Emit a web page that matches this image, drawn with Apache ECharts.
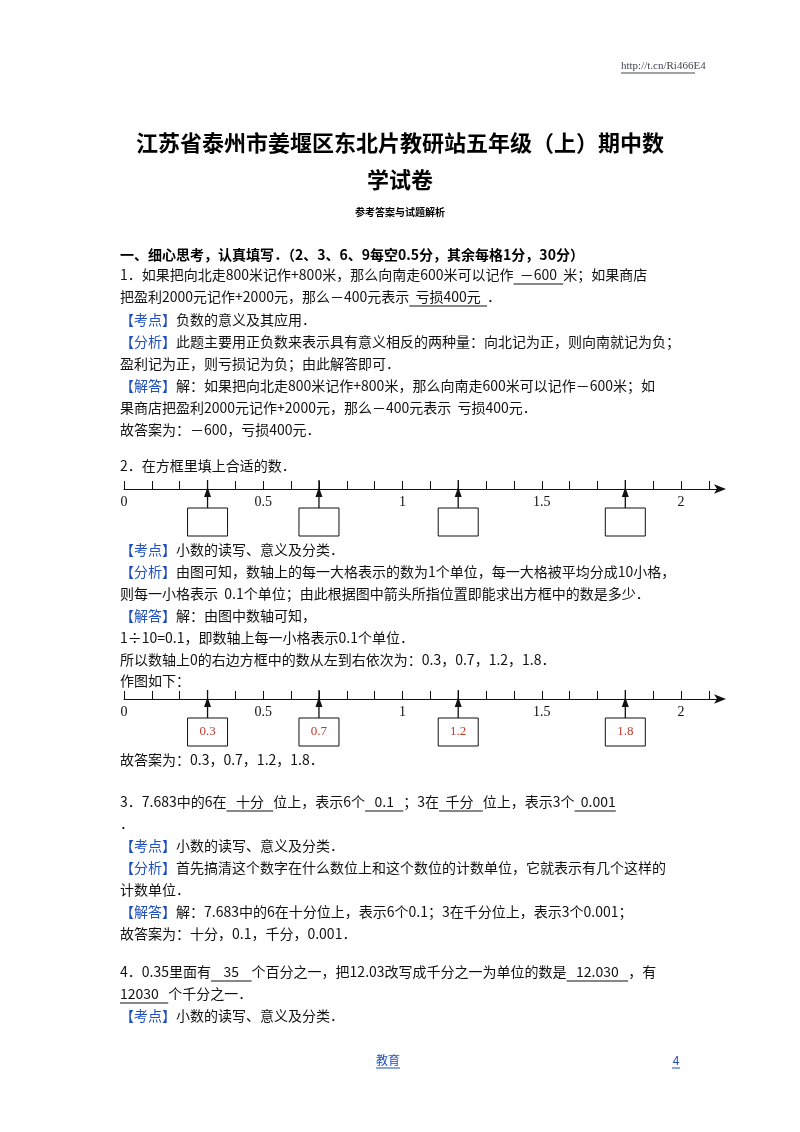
<!DOCTYPE html>
<html><head><meta charset="utf-8">
<script src="https://cdn.jsdelivr.net/npm/echarts@6/dist/echarts.min.js"></script>
<style>html,body{margin:0;padding:0;background:#fff}#main{width:800px;height:1132px}</style>
</head><body><div id="main"></div>
<script>
// 数轴数据
var ticks = [0,0.1,0.2,0.3,0.4,0.5,0.6,0.7,0.8,0.9,1,1.1,1.2,1.3,1.4,1.5,1.6,1.7,1.8,1.9,2,2.1];
var tickLabels = [0, 0.5, 1, 1.5, 2];
var arrowValues = [0.3, 0.7, 1.2, 1.8];
var answerLabels = ['0.3', '0.7', '1.2', '1.8'];

var FONT = "'Noto Sans CJK SC', sans-serif";
var BLUE = '#1f4fbf';
var ctx = document.createElement('canvas').getContext('2d');

// 每行：[y, 段落...]，段落 [文字, 下划线?, 颜色?]
var lines = [
  [275, ['1．如果把向北走800米记作+800米，那么向南走600米可以记作'], ['\u00a0\u00a0－600\u00a0\u00a0', 1], ['米；如果商店']],
  [297, ['把盈利2000元记作+2000元，那么－400元表示'], ['\u00a0\u00a0亏损400元\u00a0\u00a0', 1], ['．']],
  [320, ['【考点】', 0, BLUE], ['负数的意义及其应用．']],
  [342, ['【分析】', 0, BLUE], ['此题主要用正负数来表示具有意义相反的两种量：向北记为正，则向南就记为负；']],
  [364, ['盈利记为正，则亏损记为负；由此解答即可．']],
  [386, ['【解答】', 0, BLUE], ['解：如果把向北走800米记作+800米，那么向南走600米可以记作－600米；如']],
  [408, ['果商店把盈利2000元记作+2000元，那么－400元表示  亏损400元．']],
  [430, ['故答案为：－600，亏损400元．']],
  [466, ['2．在方框里填上合适的数．']],
  [550, ['【考点】', 0, BLUE], ['小数的读写、意义及分类．']],
  [572, ['【分析】', 0, BLUE], ['由图可知，数轴上的每一大格表示的数为1个单位，每一大格被平均分成10小格，']],
  [594, ['则每一小格表示  0.1个单位；由此根据图中箭头所指位置即能求出方框中的数是多少．']],
  [616, ['【解答】', 0, BLUE], ['解：由图中数轴可知，']],
  [638, ['1÷10=0.1，即数轴上每一小格表示0.1个单位．']],
  [660, ['所以数轴上0的右边方框中的数从左到右依次为：0.3，0.7，1.2，1.8．']],
  [681, ['作图如下：']],
  [760, ['故答案为：0.3，0.7，1.2，1.8．']],
  [802, ['3．7.683中的6在'], ['\u00a0\u00a0\u00a0十分\u00a0\u00a0\u00a0', 1], ['位上，表示6个'], ['\u00a0\u00a0\u00a00.1\u00a0\u00a0\u00a0', 1], ['；3在'], ['\u00a0\u00a0千分\u00a0\u00a0\u00a0', 1], ['位上，表示3个'], ['\u00a0\u00a00.001', 1]],
  [824, ['．']],
  [846, ['【考点】', 0, BLUE], ['小数的读写、意义及分类．']],
  [868, ['【分析】', 0, BLUE], ['首先搞清这个数字在什么数位上和这个数位的计数单位，它就表示有几个这样的']],
  [890, ['计数单位．']],
  [912, ['【解答】', 0, BLUE], ['解：7.683中的6在十分位上，表示6个0.1；3在千分位上，表示3个0.001；']],
  [934, ['故答案为：十分，0.1，千分，0.001．']],
  [972, ['4．0.35里面有'], ['\u00a0\u00a0\u00a0\u00a035\u00a0\u00a0\u00a0\u00a0', 1], ['个百分之一，把12.03改写成千分之一为单位的数是'], ['\u00a0\u00a0\u00a012.030\u00a0\u00a0\u00a0', 1], ['，有']],
  [994, ['12030', 1], ['\u00a0\u00a0\u00a0', 1], ['个千分之一．']],
  [1016, ['【考点】', 0, BLUE], ['小数的读写、意义及分类．']]
];

var graphics = [];
function addText(x, y, text, font, color, align) {
  graphics.push({type: 'text', x: x, y: y, style: {text: text, font: font, fill: color || '#111', textAlign: align || 'left', textVerticalAlign: 'middle'}});
}
function addLine(x1, y1, x2, y2, color) {
  graphics.push({type: 'line', shape: {x1: x1, y1: y1, x2: x2, y2: y2}, style: {stroke: color || '#111', lineWidth: 1}});
}

var bodyFont = '14px ' + FONT;
ctx.font = bodyFont;
lines.forEach(function (ln) {
  var x = 120, y = ln[0];
  for (var i = 1; i < ln.length; i++) {
    var seg = ln[i];
    var w = ctx.measureText(seg[0]).width;
    addText(x, y, seg[0], bodyFont, seg[2]);
    if (seg[1]) addLine(x, y + 9, x + w, y + 9);
    x += w;
  }
});

// 页眉、标题、页脚
addText(621, 66, 'http://t.cn/Ri466E4', "11px 'Liberation Serif', serif", '#445');
addLine(621, 73, 695, 73, '#445');
addText(400, 143, '江苏省泰州市姜堰区东北片教研站五年级（上）期中数', 'bold 22px ' + FONT, '#000', 'center');
addText(400, 180, '学试卷', 'bold 22px ' + FONT, '#000', 'center');
addText(400, 212, '参考答案与试题解析', 'bold 10px ' + FONT, '#000', 'center');
addText(120, 255, '一、细心思考，认真填写．（2、3、6、9每空0.5分，其余每格1分，30分）', 'bold 14px ' + FONT, '#000');
addText(388, 1060, '教育', '12px ' + FONT, BLUE, 'center');
addLine(376, 1068, 400, 1068, BLUE);
addText(676, 1060, '4', '12px ' + FONT, BLUE, 'center');
addLine(672, 1068, 680, 1068, BLUE);

var axisY = [489, 699];
function makeAxis(i) {
  return {
    gridIndex: i, type: 'value', min: 0, max: 2.14, position: 'bottom',
    axisLine: {show: true, onZero: false, symbol: ['none', 'arrow'], symbolSize: [7, 12], symbolOffset: [0, 6], lineStyle: {color: '#111', width: 1}},
    axisTick: {show: true, inside: true, length: 8, customValues: ticks, lineStyle: {color: '#111'}},
    axisLabel: {customValues: tickLabels, margin: 6, color: '#111', fontFamily: "'Liberation Serif', serif", fontSize: 14,
      formatter: function (v) { return String(v); }},
    splitLine: {show: false}
  };
}
function makeArrows(i) {
  return {
    type: 'custom', xAxisIndex: i, yAxisIndex: i, clip: false,
    data: arrowValues.map(function (v, k) { return [v, 0, k]; }),
    renderItem: function (params, api) {
      var p = api.coord([api.value(0), 0]);
      var x = p[0], y = p[1];
      var children = [
        {type: 'line', shape: {x1: x, y1: y - 9, x2: x, y2: y + 19}, style: {stroke: '#111', lineWidth: 1.3}},
        {type: 'polygon', shape: {points: [[x, y - 2], [x - 3.5, y + 8], [x + 3.5, y + 8]]}, style: {fill: '#111'}},
        {type: 'rect', shape: {x: x - 20, y: y + 19, width: 40, height: 28}, style: {fill: '#fff', stroke: '#111', lineWidth: 1}}
      ];
      if (i === 1) {
        children.push({type: 'text', x: x, y: y + 33, style: {text: answerLabels[api.value(2)], fill: '#c0392b', font: "13px 'Liberation Serif', serif", textAlign: 'center', textVerticalAlign: 'middle'}});
      }
      return {type: 'group', children: children};
    }
  };
}

var chart = echarts.init(document.getElementById('main'));
chart.setOption({
  backgroundColor: '#fff',
  animation: false,
  grid: axisY.map(function (y) { return {left: 124, width: 596, top: y - 20, height: 20}; }),
  xAxis: [makeAxis(0), makeAxis(1)],
  yAxis: [0, 1].map(function (i) { return {gridIndex: i, type: 'value', min: 0, max: 1, show: false}; }),
  series: [makeArrows(0), makeArrows(1)],
  graphic: graphics
});
</script>
</body></html>
